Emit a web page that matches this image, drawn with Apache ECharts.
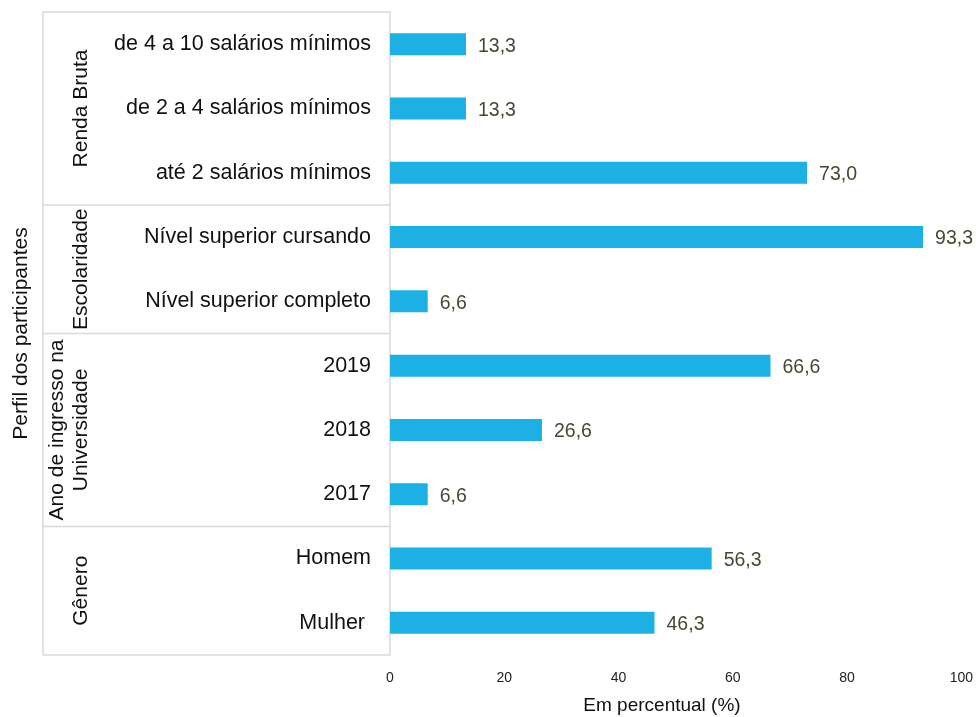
<!DOCTYPE html>
<html>
<head>
<meta charset="utf-8">
<script src="https://cdn.jsdelivr.net/npm/echarts@6/dist/echarts.min.js"></script>
<style>
  html, body { margin: 0; padding: 0; background: #ffffff; }
  #chart { width: 976px; height: 717px; }
</style>
</head>
<body>
<div id="chart"></div>
<script>
// Participant profile, in percent
const categories = [
  'de 4 a 10 salários mínimos',
  'de 2 a 4 salários mínimos',
  'até 2 salários mínimos',
  'Nível superior cursando',
  'Nível superior completo',
  '2019',
  '2018',
  '2017',
  'Homem',
  'Mulher '
];
const values = [13.3, 13.3, 73.0, 93.3, 6.6, 66.6, 26.6, 6.6, 56.3, 46.3];

// Groups, top to bottom, with how many categories each one spans
const groupNames = ['Renda Bruta', 'Escolaridade', 'Ano de ingresso na\nUniversidade', 'Gênero'];
const groupSizes = [3, 2, 3, 2];

const xTicks = [0, 20, 40, 60, 80, 100];

const FONT = '"Liberation Sans", Arial, Helvetica, sans-serif';
const LINE = '#d9d9d9';

const chart = echarts.init(document.getElementById('chart'), null, { renderer: 'canvas' });

const fmt = v => v.toFixed(1).replace('.', ',');

chart.setOption({
  animation: false,
  backgroundColor: '#ffffff',
  grid: { left: 390, right: 14, top: 12, bottom: 62, containLabel: false },
  xAxis: {
    type: 'value',
    min: xTicks[0],
    max: xTicks[xTicks.length - 1],
    interval: xTicks[1] - xTicks[0],
    axisLine: { show: false },
    axisTick: { show: false },
    splitLine: { show: false },
    axisLabel: { fontFamily: FONT, fontSize: 14, color: '#222', margin: 16 }
  },
  yAxis: {
    type: 'category',
    inverse: true,
    data: categories,
    axisLine: { show: true, lineStyle: { color: LINE, width: 1.5 } },
    axisTick: { show: false },
    axisLabel: { fontFamily: FONT, fontSize: 21.5, color: '#111', margin: 19, padding: [4, 0, 0, 0] }
  },
  series: [{
    type: 'bar',
    data: values,
    barWidth: 22,
    itemStyle: { color: '#1cb0e4' },
    label: {
      show: true,
      position: 'right',
      distance: 12,
      offset: [0, 2],
      fontFamily: FONT,
      fontSize: 19.5,
      color: '#474735',
      formatter: p => fmt(p.value)
    }
  }]
});

// Group frame, group labels and axis titles placed from the category axis
function drawFrame() {
  const c0 = chart.convertToPixel({ yAxisIndex: 0 }, 0);
  const c1 = chart.convertToPixel({ yAxisIndex: 0 }, 1);
  const band = c1 - c0;
  const top = c0 - band / 2;
  const bottom = top + band * categories.length;
  const axisX = chart.convertToPixel({ xAxisIndex: 0 }, 0);
  const leftX = 43;

  const elements = [];
  const lineStyle = { stroke: LINE, lineWidth: 1.5 };

  // outer left edge
  elements.push({ type: 'line', shape: { x1: leftX, y1: top, x2: leftX, y2: bottom }, style: lineStyle, silent: true });

  let idx = 0;
  const edges = [top];
  groupSizes.forEach(n => { idx += n; edges.push(top + band * idx); });
  edges.forEach(y => {
    elements.push({ type: 'line', shape: { x1: leftX, y1: y, x2: axisX, y2: y }, style: lineStyle, silent: true });
  });

  groupNames.forEach((name, i) => {
    const yc = (edges[i] + edges[i + 1]) / 2;
    const lines = name.split('\n').length;
    const xc = lines > 1 ? 69 : 81;
    elements.push({
      type: 'text',
      x: xc, y: yc,
      rotation: Math.PI / 2,
      style: {
        text: name,
        fontFamily: FONT, fontSize: 21, fill: '#111',
        align: 'center', verticalAlign: 'middle', lineHeight: 24
      },
      silent: true
    });
  });

  // y axis title
  elements.push({
    type: 'text',
    x: 21, y: (top + bottom) / 2,
    rotation: Math.PI / 2,
    style: { text: 'Perfil dos participantes', fontFamily: FONT, fontSize: 21, fill: '#111', align: 'center', verticalAlign: 'middle' },
    silent: true
  });

  // x axis title
  elements.push({
    type: 'text',
    x: 662, y: 706,
    style: { text: 'Em percentual (%)', fontFamily: FONT, fontSize: 19, fill: '#111', align: 'center', verticalAlign: 'middle' },
    silent: true
  });

  chart.setOption({ graphic: { elements } });
}
drawFrame();
</script>
</body>
</html>
